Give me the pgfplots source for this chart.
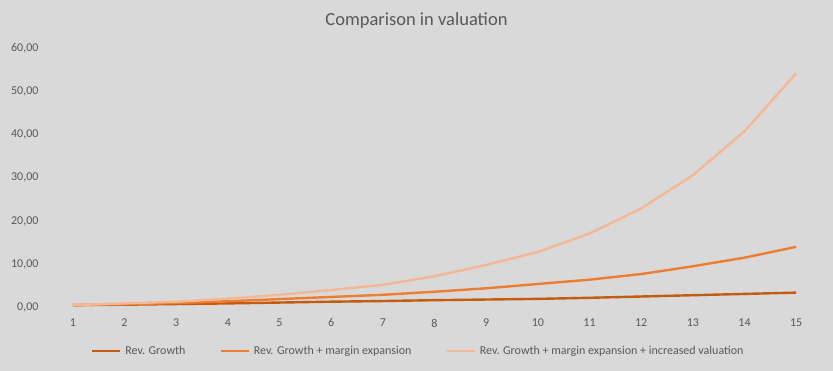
\documentclass[border=0pt]{standalone}
\usepackage{pgfplots}
\pgfplotsset{compat=1.18}
\usepackage{fontspec}
\setmainfont{Carlito}
\definecolor{bg}{HTML}{D9D9D9}
\definecolor{txt}{HTML}{595959}
\definecolor{cA}{HTML}{C55A11}
\definecolor{cB}{HTML}{ED7D31}
\definecolor{cC}{HTML}{F4B896}
\begin{document}
\begin{tikzpicture}
\fill[bg] (0,0) rectangle (833bp,371bp);
\node[text=txt, font=\fontsize{18.5bp}{22bp}\selectfont] at (416.5bp,350bp) {Comparison in valuation};
\begin{axis}[
  at={(47bp,63.7bp)}, anchor=south west,
  scale only axis, width=775bp, height=259bp,
  xmin=0.5, xmax=15.5, ymin=0, ymax=60,
  xtick={1,...,15}, ytick={0,10,...,60},
  axis line style={draw=none}, major tick length=0pt,
  /pgf/number format/assume math mode=true,
  tick label style={text=txt, font=\fontsize{12bp}{14bp}\selectfont},
  yticklabel style={/pgf/number format/.cd, fixed, fixed zerofill, precision=2, use comma},
  yticklabel shift=5bp,
  xticklabel shift=8bp,
  legend columns=3,
  legend style={at={(0.479,-0.169)}, anchor=center, draw=none, fill=none,
    text=txt, font=\fontsize{12bp}{14bp}\selectfont, column sep=2bp,
    /tikz/every even column/.append style={column sep=32bp}},
  legend image code/.code={\draw[#1] (0bp,0bp) -- (28bp,0bp);},
]
\addplot[cA, line width=2.4bp] coordinates {(1,0.5)(2,0.6)(3,0.75)(4,0.9)(5,1.1)(6,1.3)(7,1.45)(8,1.65)(9,1.8)(10,1.95)(11,2.2)(12,2.5)(13,2.8)(14,3.1)(15,3.4)};
\addlegendentry{Rev. Growth}
\addplot[cB, line width=2.4bp] coordinates {(1,0.5)(2,0.7)(3,1.0)(4,1.4)(5,1.9)(6,2.4)(7,2.9)(8,3.6)(9,4.4)(10,5.4)(11,6.4)(12,7.7)(13,9.5)(14,11.5)(15,14.0)};
\addlegendentry{Rev. Growth + margin expansion}
\addplot[cC, line width=2.4bp] coordinates {(1,0.5)(2,0.9)(3,1.3)(4,2.0)(5,2.9)(6,4.0)(7,5.2)(8,7.2)(9,9.8)(10,12.8)(11,17.1)(12,22.9)(13,30.6)(14,40.8)(15,54.2)};
\addlegendentry{Rev. Growth + margin expansion + increased valuation}
\end{axis}
\pgfresetboundingbox
\useasboundingbox (0,0) rectangle (833bp,371bp);
\end{tikzpicture}
\end{document}
